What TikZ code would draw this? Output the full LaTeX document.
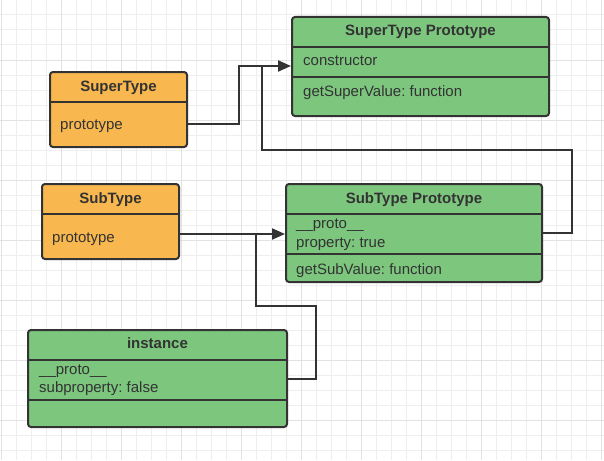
\documentclass[tikz,border=0pt]{standalone}
\usepackage{fontspec}
\setmainfont{Liberation Sans}
\usetikzlibrary{arrows.meta}
\definecolor{boxgreen}{HTML}{7DC67E}
\definecolor{boxorange}{HTML}{F9B84F}
\definecolor{ink}{HTML}{333333}
\definecolor{gridminor}{HTML}{EEEEEE}
\definecolor{gridmajor}{HTML}{E2E2E2}
\tikzset{>={Triangle[length=13pt,width=11pt]}}
\frenchspacing

\begin{document}
\begin{tikzpicture}[x=1pt, y=-1pt,
  classbox/.style={draw=ink, line width=2pt, rounded corners=3pt, inner sep=0pt},
  title/.style={text=ink, inner sep=0pt, text height=11pt, text depth=3pt, font=\fontsize{15}{17}\selectfont\bfseries},
  field/.style={text=ink, anchor=west, inner sep=0pt, text height=11pt, text depth=3pt, font=\fontsize{15}{17}\selectfont},
  divider/.style={draw=ink, line width=2pt},
  link/.style={draw=ink, line width=2pt}]
  \useasboundingbox (0,0) rectangle (604,460);

  % Grid
  \foreach \gx in {1.5,16.5,...,601.5} \draw[gridminor, line width=1pt] (\gx,0) -- (\gx,460);
  \foreach \gy in {0,15,...,460} \draw[gridminor, line width=1pt] (0,\gy) -- (604,\gy);
  \foreach \gx in {1.5,61.5,...,601.5} \draw[gridmajor, line width=1pt] (\gx,0) -- (\gx,460);
  \foreach \gy in {0,60,...,420} \draw[gridmajor, line width=1pt] (0,\gy) -- (604,\gy);

  % SuperType Prototype
  \node[classbox, fill=boxgreen, minimum width=257pt, minimum height=99pt] (superProto) at (420.5,66.5) {};
  \node[title] (superProtoTitle) at (420.5,32) {SuperType Prototype};
  \draw[divider] (superProto.west |- 0,47) -- (superProto.east |- 0,47);
  \draw[divider] (superProto.west |- 0,76.5) -- (superProto.east |- 0,76.5);
  \node[field] (superProtoCtor) at (303,62) {constructor};
  \node[field] (superProtoMethod) at (303,92) {getSuperValue: function};

  % SuperType
  \node[classbox, fill=boxorange, minimum width=137pt, minimum height=75pt] (superType) at (118.5,109.5) {};
  \node[title] (superTypeTitle) at (118.5,87) {SuperType};
  \draw[divider] (superType.west |- 0,102) -- (superType.east |- 0,102);
  \node[field] (superTypeProto) at (60,125) {prototype};

  % SubType
  \node[classbox, fill=boxorange, minimum width=137pt, minimum height=75pt] (subType) at (110.5,221.5) {};
  \node[title] (subTypeTitle) at (110.5,199) {SubType};
  \draw[divider] (subType.west |- 0,214) -- (subType.east |- 0,214);
  \node[field] (subTypeProto) at (52,238) {prototype};

  % SubType Prototype
  \node[classbox, fill=boxgreen, minimum width=256pt, minimum height=98pt] (subProto) at (414,233) {};
  \node[title] (subProtoTitle) at (414,199) {SubType Prototype};
  \draw[divider] (subProto.west |- 0,214) -- (subProto.east |- 0,214);
  \draw[divider] (subProto.west |- 0,254) -- (subProto.east |- 0,254);
  \node[field] (subProtoLink) at (296,224.5) {\_\_proto\_\_};
  \node[field] (subProtoProp) at (296,243) {property: true};
  \node[field] (subProtoMethod) at (296,270) {getSubValue: function};

  % instance
  \node[classbox, fill=boxgreen, minimum width=259pt, minimum height=97pt] (instance) at (157.5,378.5) {};
  \node[title] (instanceTitle) at (157.5,344.5) {instance};
  \draw[divider] (instance.west |- 0,360) -- (instance.east |- 0,360);
  \draw[divider] (instance.west |- 0,399.5) -- (instance.east |- 0,399.5);
  \node[field] (instanceLink) at (39,370.5) {\_\_proto\_\_};
  \node[field] (instanceProp) at (39,388.5) {subproperty: false};

  % Links
  \coordinate (superBend) at (239,66);
  \draw[link,->] (superType.east |- 0,124) -| (superBend) -- (superProto.west |- superBend);

  \coordinate (subBend) at (572,150);
  \coordinate (subJoin) at (262,66);
  \draw[link] (subProto.east) -| (subBend) -| (subJoin);

  \draw[link,->] (subType.east |- 0,234) -- (subProto.west |- 0,234);

  \coordinate (instBend) at (316,306);
  \coordinate (instJoin) at (256,234);
  \draw[link] (instance.east) -| (instBend) -| (instJoin);
\end{tikzpicture}
\end{document}
